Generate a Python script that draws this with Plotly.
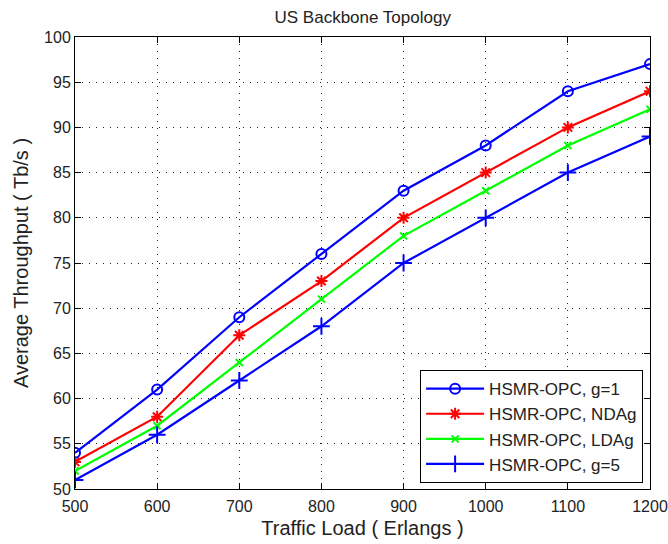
import plotly.graph_objects as go

# Traffic load (Erlangs) and average throughput (Tb/s) per scheme
traffic_load = [500, 600, 700, 800, 900, 1000, 1100, 1200]
thr_g1 = [54, 61, 69, 76, 83, 88, 94, 97]
thr_ndag = [53, 58, 67, 73, 80, 85, 90, 94]
thr_ldag = [52, 57, 64, 71, 78, 83, 88, 92]
thr_g5 = [51, 56, 62, 68, 75, 80, 85, 89]

series = [
    ("HSMR-OPC, g=1", thr_g1, "#0000ff", "circle-open", 10),
    ("HSMR-OPC, NDAg", thr_ndag, "#ff0000", "asterisk-open", 10),
    ("HSMR-OPC, LDAg", thr_ldag, "#00ff00", "x-thin-open", 7),
    ("HSMR-OPC, g=5", thr_g5, "#0000ff", "cross-thin-open", 12),
]

fig = go.Figure()
for name, vals, color, sym, size in series:
    fig.add_trace(go.Scatter(
        x=traffic_load, y=vals, name=name, mode="lines+markers",
        line=dict(color=color, width=2.2),
        marker=dict(symbol=sym, size=size, color=color,
                    line=dict(color=color, width=2)),
    ))

font = "Liberation Sans, Arial, sans-serif"
axis_common = dict(
    showline=True, linecolor="black", linewidth=1, mirror="ticks",
    ticks="inside", ticklen=6, tickcolor="black",
    showgrid=True, gridcolor="#222222", griddash="1px,6px", gridwidth=1,
    zeroline=False, tickfont=dict(family=font, size=16, color="#222222"),
    ticklabeloverflow="allow", automargin=False,
)

fig.update_layout(
    width=668, height=544,
    margin=dict(l=75, r=18, t=37, b=55),
    paper_bgcolor="white", plot_bgcolor="white",
    title=dict(text="US Backbone Topology", x=0.543, xanchor="center",
               y=0.969, yanchor="middle",
               font=dict(family=font, size=17, color="#222222")),
    xaxis=dict(range=[500, 1200], tickvals=traffic_load,
               ticklabelstandoff=3,
               title=dict(text="Traffic Load ( Erlangs )", standoff=6,
                          font=dict(family=font, size=20, color="#222222")),
               **axis_common),
    yaxis=dict(range=[50, 100], dtick=5,
               title=dict(text="Average Throughput ( Tb/s )", standoff=10,
                          font=dict(family=font, size=20, color="#222222")),
               **axis_common),
    legend=dict(x=0.988, y=0.013, xanchor="right", yanchor="bottom",
                bgcolor="white", bordercolor="black", borderwidth=1,
                font=dict(family=font, size=17, color="#222222"),
                tracegroupgap=0, itemwidth=58),
    showlegend=True,
)

fig.write_html("out.html")
